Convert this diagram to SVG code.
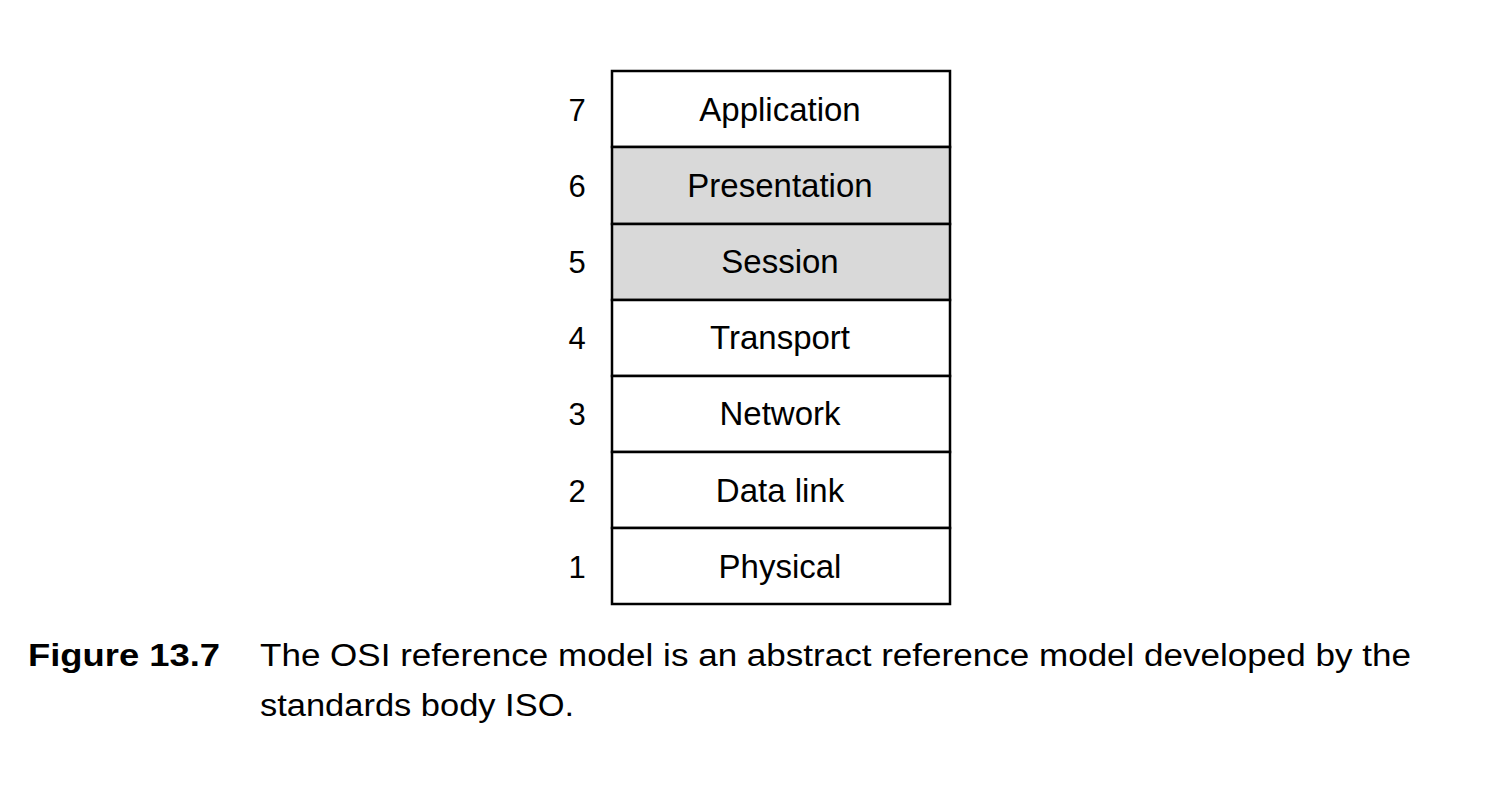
<svg xmlns="http://www.w3.org/2000/svg" width="1500" height="800" viewBox="0 0 1500 800">
<style>
.box{stroke:#000;stroke-width:2.5}
.w{fill:#fff}
.g{fill:#d9d9d9}
.lbl{font-family:"Liberation Sans",Arial,sans-serif;font-size:33px;fill:#000;text-anchor:middle}
.num{font-family:"Liberation Sans",Arial,sans-serif;font-size:31px;fill:#000;text-anchor:middle}
.cap{font-family:"Liberation Sans",Arial,sans-serif;font-size:31px;fill:#000}
.capb{font-family:"Liberation Sans",Arial,sans-serif;font-size:32px;font-weight:bold;fill:#000}
</style>
<rect width="1500" height="800" fill="#fff"/>
<g id="layer7"><rect class="box w" x="612" y="71" width="338" height="76"/><text class="lbl" x="780" y="121">Application</text><text class="num" x="577" y="121">7</text></g>
<g id="layer6"><rect class="box g" x="612" y="147" width="338" height="77"/><text class="lbl" x="780" y="197">Presentation</text><text class="num" x="577" y="197">6</text></g>
<g id="layer5"><rect class="box g" x="612" y="224" width="338" height="76"/><text class="lbl" x="780" y="273">Session</text><text class="num" x="577" y="273">5</text></g>
<g id="layer4"><rect class="box w" x="612" y="300" width="338" height="76"/><text class="lbl" x="780" y="349">Transport</text><text class="num" x="577" y="349">4</text></g>
<g id="layer3"><rect class="box w" x="612" y="376" width="338" height="76"/><text class="lbl" x="780" y="425">Network</text><text class="num" x="577" y="425">3</text></g>
<g id="layer2"><rect class="box w" x="612" y="452" width="338" height="76"/><text class="lbl" x="780" y="502">Data link</text><text class="num" x="577" y="502">2</text></g>
<g id="layer1"><rect class="box w" x="612" y="528" width="338" height="76"/><text class="lbl" x="780" y="578">Physical</text><text class="num" x="577" y="578">1</text></g>
<g id="connectors"></g>
<g id="caption">
<text class="capb" x="28" y="666" textLength="192" lengthAdjust="spacingAndGlyphs">Figure 13.7</text>
<text class="cap" x="260" y="666" textLength="1151" lengthAdjust="spacingAndGlyphs">The OSI reference model is an abstract reference model developed by the</text>
<text class="cap" x="260" y="716" textLength="314" lengthAdjust="spacingAndGlyphs">standards body ISO.</text>
</g>
</svg>
